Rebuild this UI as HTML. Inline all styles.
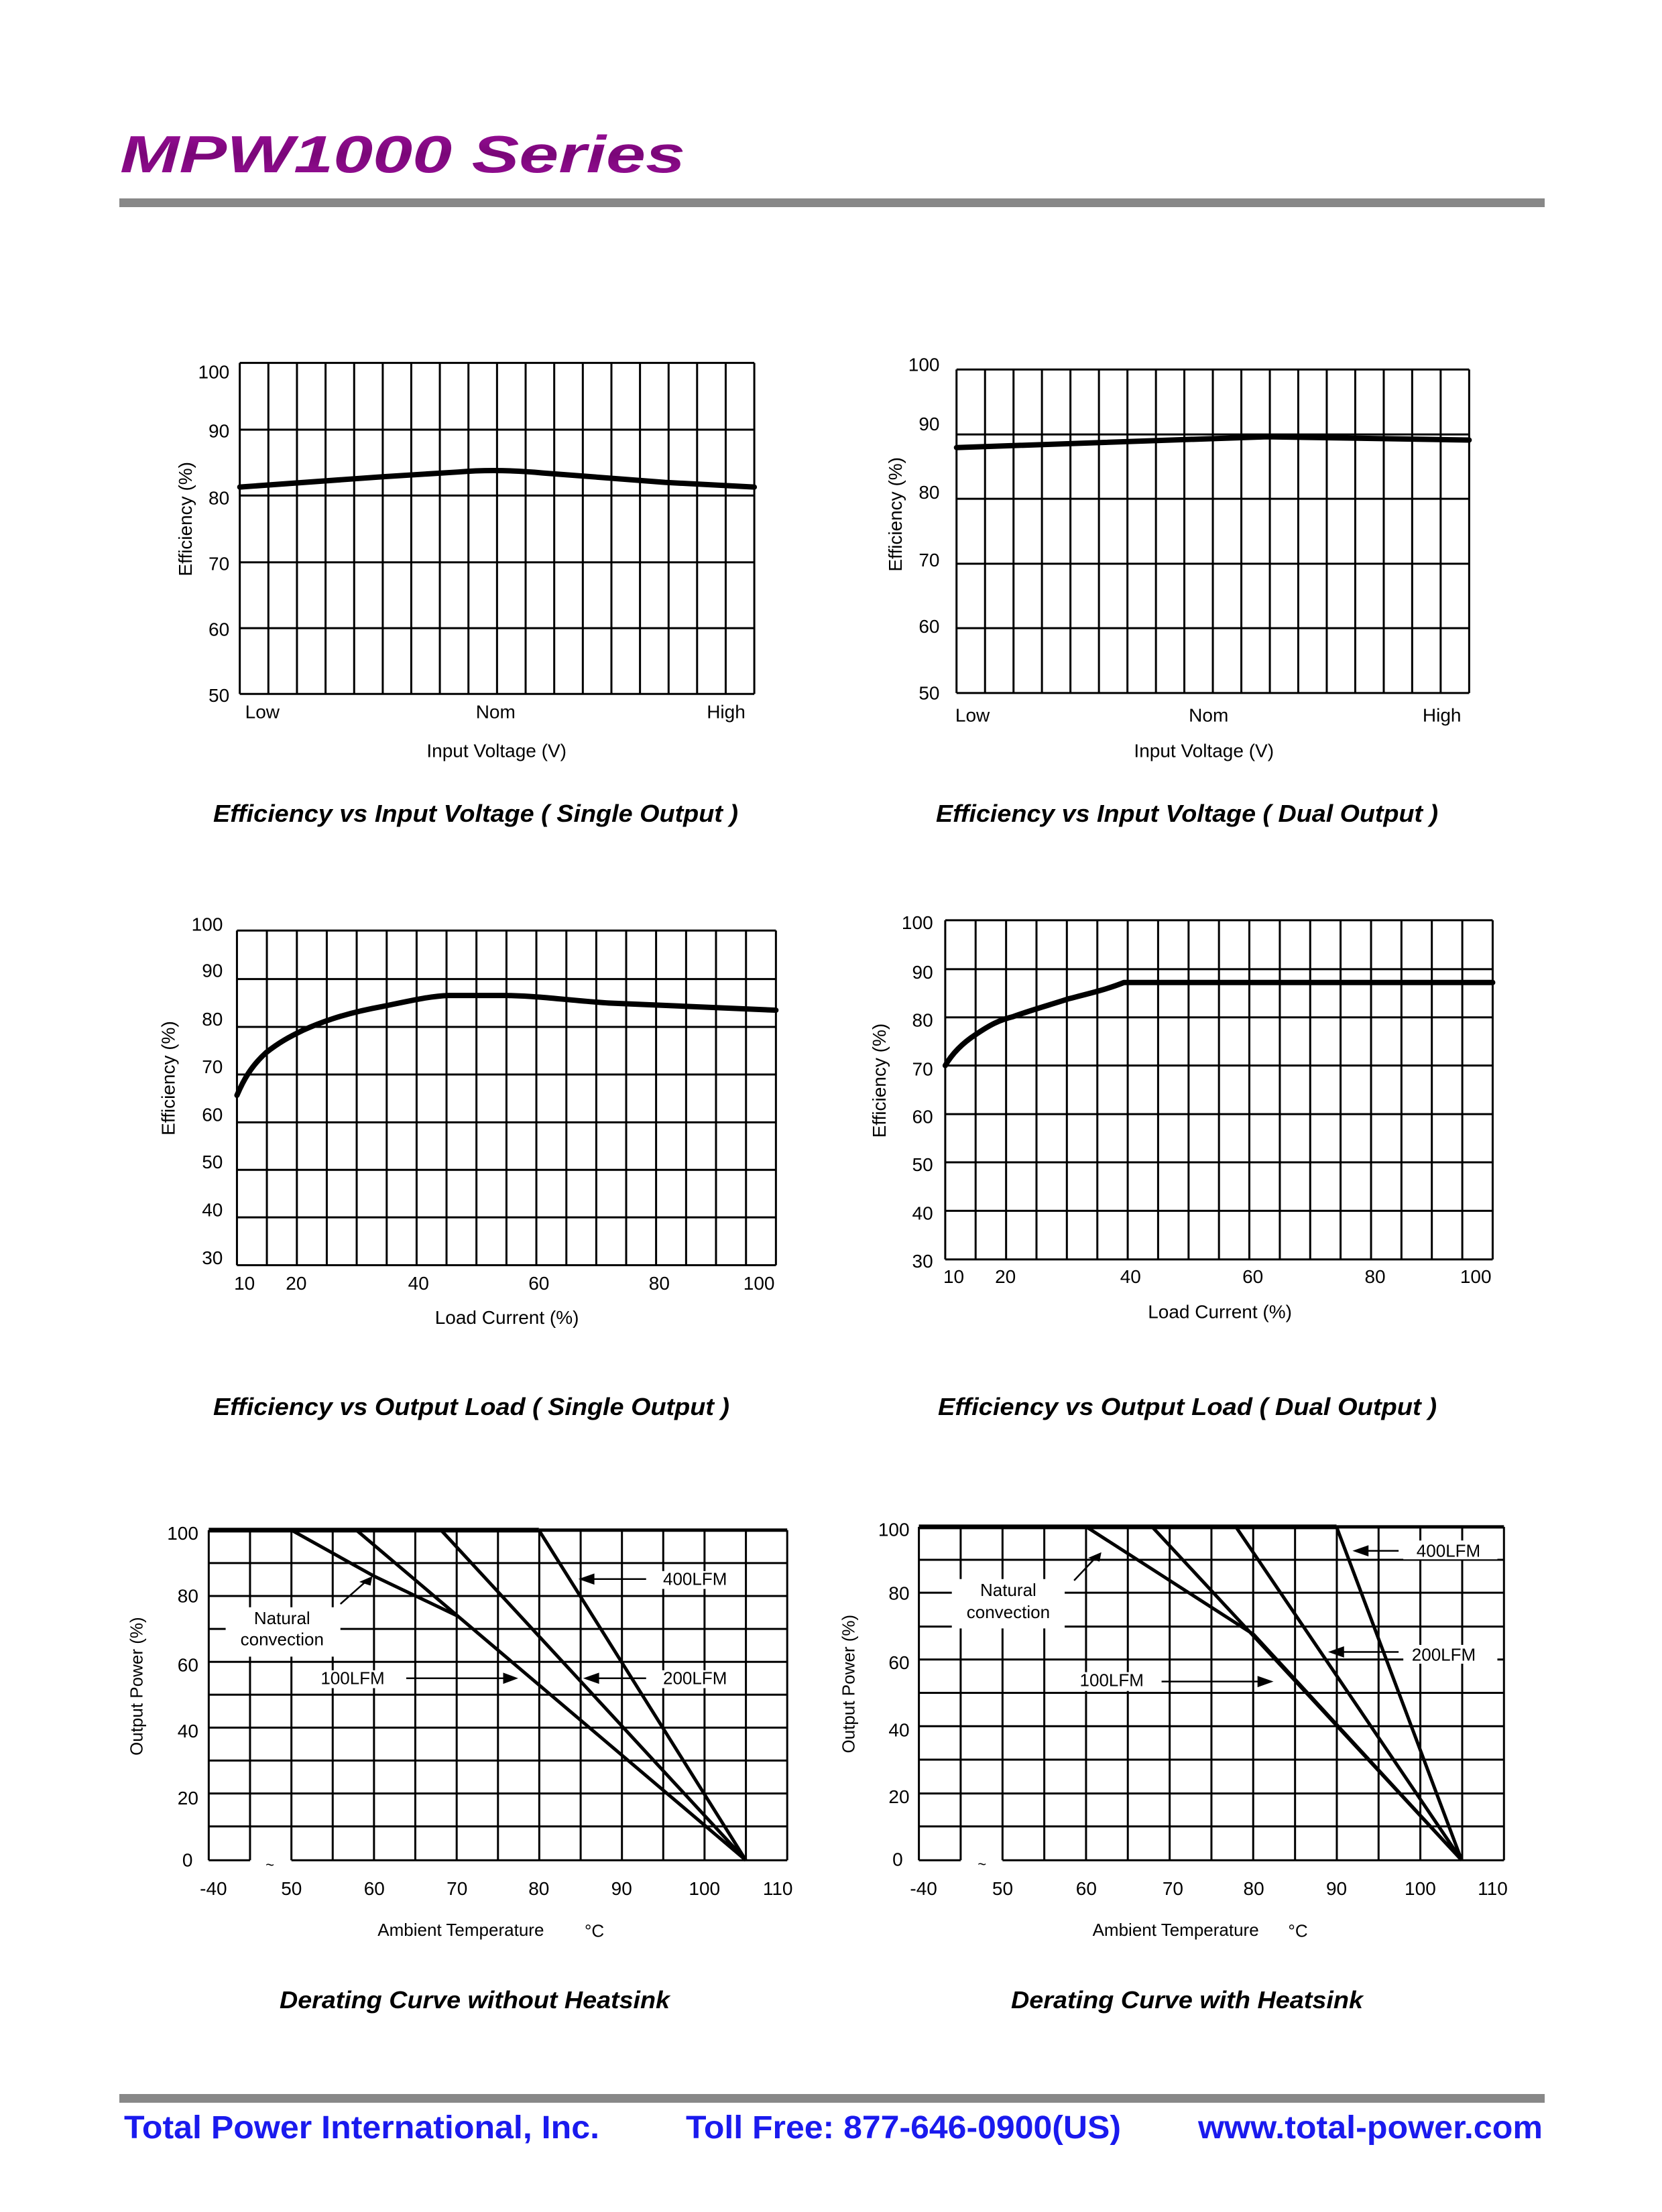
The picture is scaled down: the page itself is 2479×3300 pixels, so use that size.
<!DOCTYPE html>
<html><head><meta charset="utf-8"><style>
html,body{margin:0;padding:0;background:#fff;}
svg{display:block;}
text{font-family:"Liberation Sans",Arial,sans-serif;fill:#000;}
.g{stroke:#000;stroke-width:3;fill:none;vector-effect:non-scaling-stroke;}
.c{stroke:#000;stroke-width:8;fill:none;vector-effect:non-scaling-stroke;stroke-linejoin:round;stroke-linecap:round;}
.d{stroke:#000;stroke-width:5;fill:none;vector-effect:non-scaling-stroke;stroke-linejoin:round;}
.a{stroke:#000;stroke-width:2.5;fill:none;vector-effect:non-scaling-stroke;}
.t{font-size:28px;}
.cap{font-size:36px;font-weight:bold;font-style:italic;}
</style></head><body>
<svg width="2479" height="3300" viewBox="0 0 2479 3300" xmlns="http://www.w3.org/2000/svg">
<rect width="2479" height="3300" fill="#fff"/>
<defs><linearGradient id="pg" x1="0" y1="0" x2="0" y2="1"><stop offset="0" stop-color="#a010a0"/><stop offset="0.5" stop-color="#7a0678"/><stop offset="1" stop-color="#9a109a"/></linearGradient></defs>
<text x="179" y="257" font-size="78" font-weight="bold" font-style="italic" textLength="843" lengthAdjust="spacingAndGlyphs" fill="url(#pg)" style="fill:url(#pg)">MPW1000 Series</text>
<rect x="178" y="296" width="2126" height="13" fill="#888"/>

<!-- GROUP A -->
<g transform="translate(150,150) scale(1.403,0.7015)">
<path class="g" d="M148 558H695M148 700H695M148 840H695M148 982H695M148 1122H695M148 1262H695
M148 558V1262M178.4 558V1262M208.8 558V1262M239.2 558V1262M269.6 558V1262M300 558V1262M330.3 558V1262M360.7 558V1262M391.1 558V1262M421.5 558V1262M451.9 558V1262M482.3 558V1262M512.7 558V1262M543.1 558V1262M573.5 558V1262M603.9 558V1262M634.2 558V1262M664.6 558V1262M695 558V1262"/>
<path class="c" d="M148 822 L300 800 L380 790 Q422 783 470 792 L600 812 L695 822"/>
<path class="g" d="M910 572H1455M910 710H1455M910 847H1455M910 985H1455M910 1122H1455M910 1260H1455
M910 572V1260M940.3 572V1260M970.6 572V1260M1000.8 572V1260M1031.1 572V1260M1061.4 572V1260M1091.7 572V1260M1122 572V1260M1152.2 572V1260M1182.5 572V1260M1212.8 572V1260M1243.1 572V1260M1273.3 572V1260M1303.6 572V1260M1333.9 572V1260M1364.2 572V1260M1394.4 572V1260M1424.7 572V1260M1455 572V1260"/>
<path class="c" d="M910 738 L1240 715 L1455 722"/>
<g class="t" text-anchor="end" dominant-baseline="central">
<text transform="translate(137,577) scale(0.7128,1.4255)">100</text>
<text transform="translate(137,703) scale(0.7128,1.4255)">90</text>
<text transform="translate(137,845) scale(0.7128,1.4255)">80</text>
<text transform="translate(137,985) scale(0.7128,1.4255)">70</text>
<text transform="translate(137,1125) scale(0.7128,1.4255)">60</text>
<text transform="translate(137,1265) scale(0.7128,1.4255)">50</text>
<text transform="translate(892,562) scale(0.7128,1.4255)">100</text>
<text transform="translate(892,688) scale(0.7128,1.4255)">90</text>
<text transform="translate(892,833) scale(0.7128,1.4255)">80</text>
<text transform="translate(892,977) scale(0.7128,1.4255)">70</text>
<text transform="translate(892,1118) scale(0.7128,1.4255)">60</text>
<text transform="translate(892,1260) scale(0.7128,1.4255)">50</text>
</g>
<g class="t" text-anchor="middle" dominant-baseline="central">
<text transform="translate(172,1300) scale(0.7128,1.4255)">Low</text>
<text transform="translate(420,1300) scale(0.7128,1.4255)">Nom</text>
<text transform="translate(665,1300) scale(0.7128,1.4255)">High</text>
<text transform="translate(421,1383) scale(0.7128,1.4255)">Input Voltage (V)</text>
<text transform="translate(90,890) scale(0.7128,1.4255) rotate(-90)">Efficiency (%)</text>
<text transform="translate(927,1307) scale(0.7128,1.4255)">Low</text>
<text transform="translate(1178,1307) scale(0.7128,1.4255)">Nom</text>
<text transform="translate(1426,1307) scale(0.7128,1.4255)">High</text>
<text transform="translate(1173,1383) scale(0.7128,1.4255)">Input Voltage (V)</text>
<text transform="translate(845,880) scale(0.7128,1.4255) rotate(-90)">Efficiency (%)</text>
</g>
</g>
<text class="cap" x="318" y="1226" textLength="783" lengthAdjust="spacingAndGlyphs">Efficiency vs Input Voltage ( Single Output )</text>
<text class="cap" x="1396" y="1226" textLength="749" lengthAdjust="spacingAndGlyphs">Efficiency vs Input Voltage ( Dual Output )</text>

<!-- GROUP B -->
<g transform="translate(150,1300) scale(1.403,0.510)">
<path class="g" d="M145 173H718M145 315H718M145 455H718M145 594H718M145 734H718M145 873H718M145 1012H718M145 1152H718
M145 173V1152M176.8 173V1152M208.7 173V1152M240.5 173V1152M272.3 173V1152M304.2 173V1152M336 173V1152M367.8 173V1152M399.6 173V1152M431.5 173V1152M463.3 173V1152M495.2 173V1152M527 173V1152M558.8 173V1152M590.6 173V1152M622.5 173V1152M654.3 173V1152M686.2 173V1152M718 173V1152"/>
<path class="c" d="M145 655 C152 610 160 570 176 530 C190 500 200 485 215 465 C235 440 260 415 300 395 C330 378 350 365 370 363 L432 363 C470 365 500 378 540 385 C600 393 660 400 718 406"/>
<path class="g" d="M898 143H1480M898 286H1480M898 427H1480M898 568H1480M898 710H1480M898 851H1480M898 993H1480M898 1135H1480
M898 143V1135M930.3 143V1135M962.7 143V1135M995 143V1135M1027.3 143V1135M1059.7 143V1135M1092 143V1135M1124.3 143V1135M1156.7 143V1135M1189 143V1135M1221.3 143V1135M1253.7 143V1135M1286 143V1135M1318.3 143V1135M1350.7 143V1135M1383 143V1135M1415.3 143V1135M1447.7 143V1135M1480 143V1135"/>
<path class="c" d="M898 568 C905 535 915 505 930 478 C945 450 955 435 970 425 C990 405 1010 390 1030 372 C1050 358 1070 345 1088 325 L1480 325"/>
<g class="t" text-anchor="end" dominant-baseline="central">
<text transform="translate(130,155) scale(0.7128,1.9608)">100</text>
<text transform="translate(130,290) scale(0.7128,1.9608)">90</text>
<text transform="translate(130,432) scale(0.7128,1.9608)">80</text>
<text transform="translate(130,572) scale(0.7128,1.9608)">70</text>
<text transform="translate(130,712) scale(0.7128,1.9608)">60</text>
<text transform="translate(130,850) scale(0.7128,1.9608)">50</text>
<text transform="translate(130,990) scale(0.7128,1.9608)">40</text>
<text transform="translate(130,1130) scale(0.7128,1.9608)">30</text>
<text transform="translate(885,150) scale(0.7128,1.9608)">100</text>
<text transform="translate(885,295) scale(0.7128,1.9608)">90</text>
<text transform="translate(885,435) scale(0.7128,1.9608)">80</text>
<text transform="translate(885,578) scale(0.7128,1.9608)">70</text>
<text transform="translate(885,718) scale(0.7128,1.9608)">60</text>
<text transform="translate(885,858) scale(0.7128,1.9608)">50</text>
<text transform="translate(885,1000) scale(0.7128,1.9608)">40</text>
<text transform="translate(885,1140) scale(0.7128,1.9608)">30</text>
</g>
<g class="t" text-anchor="middle" dominant-baseline="central">
<text transform="translate(153,1205) scale(0.7128,1.9608)">10</text>
<text transform="translate(208,1205) scale(0.7128,1.9608)">20</text>
<text transform="translate(338,1205) scale(0.7128,1.9608)">40</text>
<text transform="translate(466,1205) scale(0.7128,1.9608)">60</text>
<text transform="translate(594,1205) scale(0.7128,1.9608)">80</text>
<text transform="translate(700,1205) scale(0.7128,1.9608)">100</text>
<text transform="translate(432,1305) scale(0.7128,1.9608)">Load Current (%)</text>
<text transform="translate(72,605) scale(0.7128,1.9608) rotate(-90)">Efficiency (%)</text>
<text transform="translate(907,1185) scale(0.7128,1.9608)">10</text>
<text transform="translate(962,1185) scale(0.7128,1.9608)">20</text>
<text transform="translate(1095,1185) scale(0.7128,1.9608)">40</text>
<text transform="translate(1225,1185) scale(0.7128,1.9608)">60</text>
<text transform="translate(1355,1185) scale(0.7128,1.9608)">80</text>
<text transform="translate(1462,1185) scale(0.7128,1.9608)">100</text>
<text transform="translate(1190,1288) scale(0.7128,1.9608)">Load Current (%)</text>
<text transform="translate(828,612) scale(0.7128,1.9608) rotate(-90)">Efficiency (%)</text>
</g>
</g>
<text class="cap" x="318" y="2111" textLength="770" lengthAdjust="spacingAndGlyphs">Efficiency vs Output Load  ( Single Output )</text>
<text class="cap" x="1399" y="2111" textLength="744" lengthAdjust="spacingAndGlyphs">Efficiency vs Output Load  ( Dual Output )</text>

<!-- GROUP C -->
<g transform="translate(150,2200) scale(1.403,0.7015)">
<path class="g" d="M115 188H730M115 258H730M115 328H730M115 398H730M115 468H730M115 538H730M115 608H730M115 678H730M115 748H730
M115 820H158.9M202.9 820H730
M115 118V820M158.9 118V820M202.9 118V820M246.8 118V820M290.7 118V820M334.6 118V820M378.6 118V820M422.5 118V820M466.4 118V820M510.4 118V820M554.3 118V820M598.2 118V820M642.1 118V820M686.1 118V820M730 118V820"/>
<path class="d" d="M466 118H730"/>
<!-- label boxes -->
<rect x="133" y="282" width="122" height="105" fill="#fff"/>
<rect x="585" y="205" width="95" height="38" fill="#fff"/>
<rect x="585" y="416" width="95" height="38" fill="#fff"/>
<rect x="225" y="416" width="90" height="38" fill="#fff"/>
<path class="d" style="stroke-width:7" d="M115 118H466"/>
<path class="d" d="M466 118L686 820M362 118L686 820M272 118L686 820M203 118L290 215L379 300"/>
<path class="a" d="M580 222H515M325 433H438M580 433H520M255 275L285 222"/>
<path d="M508 222L525 210L525 234Z M444 433L428 421L428 445Z M513 433L530 421L530 445Z M289 216L275 228L287 236Z" fill="#000"/>
<text class="t" transform="translate(180,830) scale(0.7128,1.4255)" text-anchor="middle" dominant-baseline="central" style="font-size:22px">~</text>

<path class="g" d="M870 181H1492M870 251H1492M870 323H1492M870 393H1492M870 464H1492M870 535H1492M870 606H1492M870 678H1492M870 748H1492
M870 820H914.4M958.9 820H1492
M870 111V820M914.4 111V820M958.9 111V820M1003.3 111V820M1047.7 111V820M1092.1 111V820M1136.6 111V820M1181 111V820M1225.4 111V820M1269.9 111V820M1314.3 111V820M1358.7 111V820M1403.1 111V820M1447.6 111V820M1492 111V820"/>
<path class="d" d="M1314 111H1492"/>
<rect x="905" y="222" width="120" height="105" fill="#fff"/>
<rect x="1385" y="140" width="100" height="40" fill="#fff"/>
<rect x="1385" y="362" width="100" height="40" fill="#fff"/>
<rect x="1025" y="420" width="100" height="40" fill="#fff"/>
<path class="d" style="stroke-width:7" d="M870 111H1314"/>
<path class="d" d="M1314 111L1447 820M1207 111L1447 820M1118 111L1447 820M1048 111L1226 340L1447 820"/>
<path class="a" d="M1380 162H1338M1380 377H1312M1128 440H1240M1035 225L1060 172"/>
<path d="M1331 162L1348 150L1348 174Z M1305 377L1322 365L1322 389Z M1247 440L1230 428L1230 452Z M1064 165L1050 177L1062 185Z" fill="#000"/>
<text class="t" transform="translate(937,828) scale(0.7128,1.4255)" text-anchor="middle" dominant-baseline="central" style="font-size:22px">~</text>

<g class="t" text-anchor="end" dominant-baseline="central">
<text transform="translate(104,125) scale(0.7128,1.4255)">100</text>
<text transform="translate(104,258) scale(0.7128,1.4255)">80</text>
<text transform="translate(104,405) scale(0.7128,1.4255)">60</text>
<text transform="translate(104,545) scale(0.7128,1.4255)">40</text>
<text transform="translate(104,688) scale(0.7128,1.4255)">20</text>
<text transform="translate(98,820) scale(0.7128,1.4255)">0</text>
<text transform="translate(860,117) scale(0.7128,1.4255)">100</text>
<text transform="translate(860,252) scale(0.7128,1.4255)">80</text>
<text transform="translate(860,400) scale(0.7128,1.4255)">60</text>
<text transform="translate(860,543) scale(0.7128,1.4255)">40</text>
<text transform="translate(860,685) scale(0.7128,1.4255)">20</text>
<text transform="translate(853,818) scale(0.7128,1.4255)">0</text>
</g>
<g class="t" text-anchor="middle" dominant-baseline="central">
<text transform="translate(120,880) scale(0.7128,1.4255)">-40</text>
<text transform="translate(203,880) scale(0.7128,1.4255)">50</text>
<text transform="translate(291,880) scale(0.7128,1.4255)">60</text>
<text transform="translate(379,880) scale(0.7128,1.4255)">70</text>
<text transform="translate(466,880) scale(0.7128,1.4255)">80</text>
<text transform="translate(554,880) scale(0.7128,1.4255)">90</text>
<text transform="translate(642,880) scale(0.7128,1.4255)">100</text>
<text transform="translate(720,880) scale(0.7128,1.4255)">110</text>
<text transform="translate(383,968) scale(0.7128,1.4255)" style="font-size:26px">Ambient Temperature</text>
<text transform="translate(525,970) scale(0.7128,1.4255)" style="font-size:26px">°C</text>
<text transform="translate(38,450) scale(0.7128,1.4255) rotate(-90)" style="font-size:26px">Output Power  (%)</text>
<text transform="translate(193,305) scale(0.7128,1.4255)" style="font-size:26px">Natural</text>
<text transform="translate(193,350) scale(0.7128,1.4255)" style="font-size:26px">convection</text>
<text transform="translate(632,222) scale(0.7128,1.4255)" style="font-size:26px">400LFM</text>
<text transform="translate(632,433) scale(0.7128,1.4255)" style="font-size:26px">200LFM</text>
<text transform="translate(268,433) scale(0.7128,1.4255)" style="font-size:26px">100LFM</text>
<text transform="translate(875,880) scale(0.7128,1.4255)">-40</text>
<text transform="translate(959,880) scale(0.7128,1.4255)">50</text>
<text transform="translate(1048,880) scale(0.7128,1.4255)">60</text>
<text transform="translate(1140,880) scale(0.7128,1.4255)">70</text>
<text transform="translate(1226,880) scale(0.7128,1.4255)">80</text>
<text transform="translate(1314,880) scale(0.7128,1.4255)">90</text>
<text transform="translate(1403,880) scale(0.7128,1.4255)">100</text>
<text transform="translate(1480,880) scale(0.7128,1.4255)">110</text>
<text transform="translate(1143,968) scale(0.7128,1.4255)" style="font-size:26px">Ambient Temperature</text>
<text transform="translate(1273,970) scale(0.7128,1.4255)" style="font-size:26px">°C</text>
<text transform="translate(795,445) scale(0.7128,1.4255) rotate(-90)" style="font-size:26px">Output Power  (%)</text>
<text transform="translate(965,245) scale(0.7128,1.4255)" style="font-size:26px">Natural</text>
<text transform="translate(965,292) scale(0.7128,1.4255)" style="font-size:26px">convection</text>
<text transform="translate(1433,162) scale(0.7128,1.4255)" style="font-size:26px">400LFM</text>
<text transform="translate(1428,383) scale(0.7128,1.4255)" style="font-size:26px">200LFM</text>
<text transform="translate(1075,437) scale(0.7128,1.4255)" style="font-size:26px">100LFM</text>
</g>
</g>
<text class="cap" x="417" y="2996" textLength="582" lengthAdjust="spacingAndGlyphs">Derating Curve without Heatsink</text>
<text class="cap" x="1508" y="2996" textLength="525" lengthAdjust="spacingAndGlyphs">Derating Curve with Heatsink</text>

<rect x="178" y="3124" width="2126" height="13" fill="#888"/>
<g font-size="48" font-weight="bold" style="fill:#1a1aee">
<text x="185" y="3190" textLength="709" lengthAdjust="spacingAndGlyphs" style="fill:#1a1aee">Total Power International, Inc.</text>
<text x="1023" y="3190" textLength="649" lengthAdjust="spacingAndGlyphs" style="fill:#1a1aee">Toll Free: 877-646-0900(US)</text>
<text x="1787" y="3190" textLength="514" lengthAdjust="spacingAndGlyphs" style="fill:#1a1aee">www.total-power.com</text>
</g>
</svg>
</body></html>
